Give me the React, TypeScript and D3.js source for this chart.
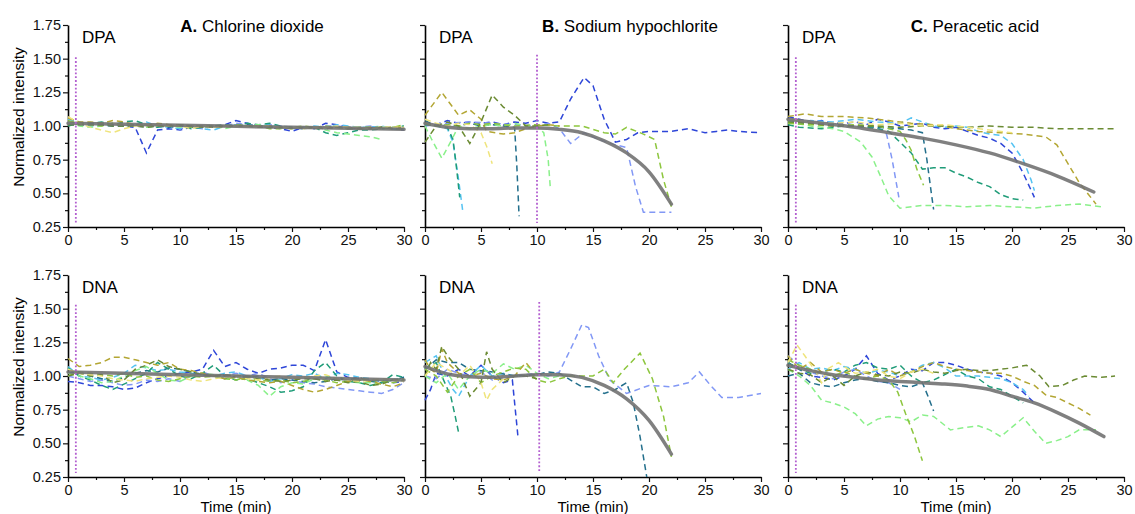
import React, { useEffect, useRef } from 'react';
import * as d3 from 'd3';

type Pt = [number, number];
type Series = number[] | Pt[];

// replicate colours, same order in every panel
const palette = ['#2e46d8', '#8298f5', '#55c3f2', '#236f8c', '#1f9c78', '#8af08a', '#8dc63e', '#b3a633', '#6b8b33', '#efe47c'];

const yTicks = [0.25, 0.5, 0.75, 1.0, 1.25, 1.5, 1.75];
const xTicks = [0, 5, 10, 15, 20, 25, 30];
const titles = [['A.', ' Chlorine dioxide'], ['B.', ' Sodium hypochlorite'], ['C.', ' Peracetic acid']];
const rowLabels = ['DPA', 'DNA'];
// dotted marker: time (min) and top value, per row / column
const markerTime = [[0.7, 10, 0.7], [0.7, 10.2, 0.7]];
const markerTop = [[1.51, 1.53, 1.51], [1.53, 1.55, 1.53]];

// ---- A. Chlorine dioxide, DPA (one value per minute)
const aDpa: Series[] = [
  [1.03, 1.02, 1.01, 1.02, 1.01, 1.0, 0.99, 0.8, 0.97, 0.98, 0.97, 0.99, 1.0, 0.99, 1.01, 1.04, 1.02, 1.0, 0.99, 0.98, 0.96, 0.99, 0.98, 1.02, 1.01, 0.99, 0.98, 0.99, 0.99, 0.98, 0.97],
  [1.02, 1.01, 1.0, 1.01, 1.0, 1.01, 1.0, 0.99, 1.0, 1.0, 0.98, 0.99, 0.98, 1.0, 1.0, 1.02, 1.01, 1.0, 1.01, 1.0, 0.99, 0.98, 0.99, 1.0, 1.0, 0.99, 0.99, 1.0, 0.98, 0.99, 0.98],
  [1.05, 1.03, 1.0, 1.01, 1.0, 1.02, 1.01, 1.03, 1.0, 0.99, 0.98, 1.0, 0.98, 0.97, 1.0, 1.01, 1.0, 1.0, 1.01, 0.99, 0.98, 0.99, 1.0, 0.99, 1.01, 1.0, 0.99, 0.99, 1.0, 0.98, 0.98],
  [1.01, 1.01, 1.02, 1.01, 1.0, 1.0, 1.01, 1.0, 1.0, 0.99, 1.0, 0.99, 1.0, 0.99, 1.0, 1.0, 1.01, 1.0, 1.0, 0.99, 0.99, 0.98, 0.99, 0.98, 0.99, 0.99, 0.98, 0.98, 0.99, 0.98, 0.98],
  [1.0, 1.02, 1.02, 1.03, 1.01, 1.03, 1.04, 1.01, 0.99, 1.0, 1.0, 0.98, 0.99, 1.0, 1.01, 1.0, 1.02, 1.01, 1.02, 1.0, 0.99, 0.98, 0.99, 0.95, 0.93, 0.95, 0.97, 0.97, 0.98, 0.99, 1.0],
  [1.03, 1.0, 0.99, 1.0, 1.02, 1.0, 1.01, 0.99, 1.0, 1.0, 0.99, 1.0, 0.99, 1.0, 0.98, 1.0, 1.0, 1.01, 1.0, 0.99, 0.98, 0.99, 0.99, 0.97, 0.95, 0.94, 0.93, 0.92, 0.9],
  [1.04, 1.02, 1.01, 1.0, 1.02, 1.01, 1.0, 1.01, 1.0, 1.0, 1.01, 0.99, 1.0, 1.0, 0.99, 1.01, 1.0, 1.0, 0.98, 0.98, 0.99, 1.0, 0.99, 1.0, 0.99, 0.98, 0.99, 0.99, 0.98, 0.99, 1.01],
  [1.06, 1.03, 1.03, 1.02, 1.04, 1.03, 1.01, 1.0, 1.02, 1.01, 1.01, 1.0, 1.0, 0.99, 1.0, 1.0, 1.0, 1.0, 1.0, 0.99, 0.98, 0.99, 0.98, 0.99, 0.99, 0.99, 0.98, 0.99, 0.99, 0.99, 0.99],
  [1.01, 1.01, 1.01, 1.01, 1.0, 1.0, 1.0, 0.99, 1.0, 1.0, 1.01, 1.0, 0.99, 1.0, 1.0, 1.0, 1.0, 0.99, 0.99, 0.99, 0.98, 0.99, 0.99, 0.98, 0.99, 0.98, 0.98, 0.98, 0.99, 0.98, 0.98],
  [1.07, 1.02, 0.99, 0.97, 0.95, 0.98, 1.0, 1.01, 1.01, 1.0, 1.0, 0.98, 1.0, 0.99, 1.0, 1.0, 1.0, 1.0, 1.0, 0.99, 0.99, 0.98, 0.99, 0.99, 1.0, 0.99, 0.99, 0.98, 0.99, 0.99, 0.99],
];
const aDpaFit: Pt[] = [[0, 1.02], [10, 1.005], [20, 0.99], [30, 0.975]];

// ---- A. Chlorine dioxide, DNA
const aDna: Series[] = [
  [0.96, 0.95, 0.93, 0.93, 0.92, 0.9, 0.91, 0.95, 0.98, 1.0, 1.02, 1.03, 1.05, 1.19, 1.07, 1.1, 1.05, 1.02, 1.05, 1.06, 1.08, 1.08, 1.04, 1.27, 1.03, 0.99, 0.98, 0.97, 0.96, 0.95, 0.96],
  [1.0, 0.98, 0.96, 0.97, 0.95, 0.93, 0.94, 0.97, 0.96, 0.98, 0.96, 1.0, 1.03, 1.0, 1.0, 1.02, 1.0, 1.02, 0.98, 0.95, 0.97, 0.95, 0.94, 0.92, 0.91, 0.9, 0.89, 0.88, 0.87, 0.9, 0.95],
  [1.07, 1.0, 0.99, 0.97, 0.99, 1.02, 1.08, 1.06, 1.04, 1.05, 1.03, 1.02, 1.01, 1.0, 1.02, 1.03, 1.0, 0.99, 0.96, 0.98, 1.01, 1.0, 1.02, 0.98, 1.02, 1.01, 0.99, 0.98, 0.96, 0.97, 0.99],
  [1.02, 1.03, 1.0, 0.98, 0.96, 0.99, 1.02, 1.04, 1.03, 1.06, 1.05, 1.03, 1.01, 1.0, 0.98, 1.0, 0.99, 1.0, 0.97, 0.98, 0.97, 0.96, 0.95, 0.96, 0.98, 0.97, 0.99, 0.96, 0.95, 0.97, 0.99],
  [1.06, 1.0, 0.97, 0.93, 0.9, 0.94, 0.98, 1.02, 1.1, 1.05, 1.0, 0.98, 1.02, 1.08, 1.0, 0.97, 0.98, 0.95, 0.92, 0.88, 0.89, 0.92, 1.04, 1.1, 1.0, 0.96, 0.95, 0.93, 0.95, 1.01, 0.99],
  [1.02, 1.0, 0.98, 0.95, 0.96, 1.0, 1.04, 1.07, 1.02, 0.97, 0.96, 1.0, 1.02, 1.01, 0.98, 0.99, 0.97, 0.93, 0.85, 0.92, 0.95, 0.94, 0.98, 1.0, 0.97, 0.96, 0.95, 0.95, 0.94, 0.97, 0.98],
  [1.0, 1.03, 1.02, 1.01, 1.0, 1.02, 0.99, 1.0, 0.97, 0.96, 0.98, 1.0, 0.99, 1.0, 0.98, 0.97, 0.99, 0.97, 0.96, 0.97, 0.95, 0.96, 0.98, 0.97, 0.95, 0.96, 0.98, 0.97, 0.96, 0.95, 0.97],
  [1.13, 1.07, 1.08, 1.1, 1.14, 1.14, 1.12, 1.1, 1.08, 1.1, 1.05, 1.04, 1.02, 1.0, 0.98, 0.99, 0.97, 0.96, 0.95, 0.96, 0.93, 0.9, 0.88, 0.9, 0.93, 0.96, 0.97, 0.96, 0.94, 0.92, 0.95],
  [1.0, 1.02, 1.0, 1.01, 0.95, 0.97, 1.05, 1.08, 1.12, 1.07, 1.05, 1.03, 1.01, 1.0, 1.01, 1.0, 1.0, 0.98, 0.97, 0.96, 0.97, 0.98, 0.98, 0.96, 0.97, 0.95, 0.96, 0.93, 0.94, 0.97, 0.98],
  [1.05, 1.02, 1.01, 1.0, 0.98, 0.97, 0.96, 0.98, 0.99, 1.0, 0.99, 0.97, 0.96, 0.98, 0.99, 1.0, 0.98, 0.97, 0.99, 1.0, 0.98, 0.99, 1.0, 1.01, 0.98, 0.97, 0.96, 0.97, 0.98, 0.97, 0.96],
];
const aDnaFit: Pt[] = [[0, 1.03], [10, 1.01], [20, 0.99], [30, 0.97]];

// ---- B. Sodium hypochlorite, DPA ([min, value])
const bDpa: Series[] = [
  [[0, 1.02], [1, 1.01], [2, 1.04], [3, 1.02], [4, 1.03], [5, 1.02], [6, 1.03], [7, 1.01], [8, 1.03], [9, 1.02], [10, 1.04], [11, 1.02], [12, 1.03], [13, 1.2], [14.2, 1.36], [15, 1.3], [16, 1.05], [17, 0.88], [18, 0.9], [19, 0.95], [20, 0.96], [22, 0.96], [23.5, 0.98], [25, 0.95], [26, 0.96], [27, 0.97], [28, 0.96], [30, 0.95]],
  [[0, 1.0], [2, 1.02], [4, 1.03], [6, 1.02], [8, 1.01], [10, 1.0], [11, 1.02], [12, 0.98], [13, 0.87], [14.2, 0.95], [15.5, 0.9], [17, 0.86], [18, 0.84], [18.8, 0.55], [19.5, 0.36], [22, 0.36]],
  [[0, 1.02], [1, 1.0], [2, 0.98], [2.5, 0.88], [3, 0.6], [3.4, 0.35]],
  [[0, 1.04], [1, 1.0], [2, 1.01], [3, 1.0], [4, 1.02], [5, 1.0], [6, 1.01], [7, 1.0], [8, 0.99], [8.2, 0.7], [8.4, 0.33]],
  [[0, 1.01], [1, 1.0], [2, 0.99], [2.5, 0.9], [2.8, 0.7], [3.1, 0.47]],
  [[0, 1.0], [0.6, 0.9], [1.5, 0.76], [2.4, 0.9], [3, 1.0], [4, 0.98], [5, 1.0], [6, 1.01], [7, 1.0], [8, 1.02], [9, 1.0], [10, 1.0], [10.6, 0.95], [11, 0.75], [11.2, 0.53]],
  [[0, 1.02], [1, 1.0], [2, 1.01], [3, 1.0], [4, 1.02], [5, 1.01], [6, 1.02], [8, 1.0], [10, 1.01], [12, 1.0], [14, 1.0], [16, 0.95], [17, 0.94], [18, 0.99], [19.5, 0.94], [20.5, 0.9], [21.3, 0.6], [22, 0.4]],
  [[0, 1.08], [1.5, 1.25], [3, 1.08], [4, 1.12], [5, 1.05], [5.5, 0.96], [7, 0.94], [8, 0.95], [9, 0.98], [10, 1.0], [11, 1.01], [12, 1.0]],
  [[0, 0.88], [1, 1.0], [2, 1.03], [3, 1.0], [4, 0.87], [5, 1.03], [6, 1.23], [7, 1.14], [8, 1.08], [9, 1.0], [10, 1.0], [11, 1.01]],
  [[0, 1.05], [1, 1.02], [2, 1.0], [3, 1.02], [4, 1.01], [5, 0.95], [5.5, 0.85], [6, 0.72]],
];
const bDpaFit: Pt[] = [[0, 1.02], [2, 0.99], [4, 0.98], [6, 0.98], [8, 0.985], [10, 0.985], [12, 0.975], [14, 0.95], [16, 0.89], [18, 0.8], [20, 0.66], [22, 0.42]];

// ---- B. Sodium hypochlorite, DNA
const bDna: Series[] = [
  [[0, 0.82], [0.5, 0.9], [1, 1.02], [2, 1.0], [3, 1.05], [4, 1.0], [5, 1.08], [6, 1.0], [7, 0.95], [7.8, 0.97], [8.3, 0.55]],
  [[0, 1.0], [1, 0.98], [2, 1.05], [3, 1.02], [4, 1.0], [5, 1.03], [6, 0.97], [8, 1.0], [10, 1.02], [11, 1.0], [12, 1.03], [13, 1.2], [14, 1.38], [14.6, 1.36], [15.5, 1.15], [16.5, 0.97], [18, 0.87], [20, 0.93], [22, 0.92], [23.5, 0.95], [24.5, 1.03], [25.5, 0.93], [26.5, 0.84], [28, 0.84], [30, 0.87]],
  [[0, 1.1], [1, 1.15], [1.5, 1.05], [2.5, 0.9], [3, 0.85], [4, 1.0], [5, 1.08], [6, 1.0], [7, 1.02], [8, 1.0]],
  [[0, 1.05], [1, 1.12], [2, 1.1], [3, 1.1], [4, 1.05], [6, 1.03], [8, 1.0], [10, 1.01], [11, 1.03], [12, 1.02], [13, 0.97], [14, 0.92], [15, 0.92], [16, 0.87], [17, 0.9], [18, 0.95], [18.6, 0.8], [19.2, 0.55], [19.8, 0.25]],
  [[0, 1.05], [1, 1.1], [1.5, 1.0], [2.3, 0.85], [2.7, 0.7], [3, 0.58]],
  [[0, 1.0], [1, 0.95], [2, 1.02], [3, 0.9], [4, 1.0], [5, 1.05], [6, 1.02], [7, 1.09], [8, 1.05], [9, 1.08], [10, 1.02], [11, 0.98], [12, 1.0], [13, 1.0]],
  [[0, 1.05], [1, 1.0], [2, 0.88], [3, 1.0], [4, 1.05], [5, 0.95], [6, 1.0], [8, 1.06], [9, 1.05], [10, 0.97], [11, 0.95], [12, 0.98], [13, 1.0], [14, 1.0], [15, 1.0], [16, 1.05], [16.8, 0.95], [17.8, 1.05], [19.2, 1.17], [20.3, 0.98], [21.3, 0.7], [22, 0.4]],
  [[0, 1.12], [0.5, 1.05], [1, 1.02], [1.5, 1.2], [2, 1.1], [3, 1.02], [4, 1.0], [5, 1.02], [6, 0.98], [7, 0.97], [8, 1.0], [9, 1.1], [9.5, 1.05]],
  [[0, 1.0], [0.5, 1.1], [1, 1.05], [1.5, 1.22], [2, 1.15], [3, 1.05], [4, 0.85], [5, 0.95], [5.5, 1.18], [6, 1.05], [7, 0.95], [8, 1.0], [9, 1.0], [10, 0.98]],
  [[0, 1.0], [1, 1.1], [2, 1.05], [3, 1.0], [4, 1.08], [5, 0.95], [5.5, 0.82], [6, 0.9], [7, 0.98]],
];
const bDnaFit: Pt[] = [[0, 1.07], [1, 1.04], [2, 1.015], [4, 0.995], [6, 0.99], [8, 1.0], [10, 1.01], [12, 1.01], [14, 0.99], [16, 0.93], [18, 0.83], [20, 0.67], [22, 0.42]];

// ---- C. Peracetic acid, DPA
const cDpa: Series[] = [
  [[0, 1.07], [1, 1.05], [2, 1.03], [3, 1.04], [4, 1.02], [5, 1.02], [6, 1.03], [7, 1.01], [8, 1.05], [9, 1.03], [10, 1.0], [11, 1.01], [12, 1.02], [13, 0.99], [14, 0.98], [15, 0.99], [16, 0.96], [17, 0.93], [18, 0.91], [19, 0.87], [20, 0.8], [21, 0.65], [22, 0.47]],
  [[0, 1.04], [2, 1.03], [4, 1.02], [6, 1.0], [8, 0.99], [8.8, 0.94], [9.3, 0.75], [9.9, 0.47]],
  [[0, 1.02], [2, 1.04], [4, 1.03], [6, 1.05], [8, 1.03], [10, 1.02], [11, 1.06], [12, 1.03], [13, 1.0], [14, 0.99], [15, 1.0], [16, 0.99], [17, 0.96], [18, 0.94], [19, 0.93], [20, 0.87], [21, 0.75], [21.7, 0.6], [22, 0.52]],
  [[0, 1.03], [2, 1.02], [4, 1.01], [6, 1.0], [8, 0.99], [10, 0.98], [11, 0.97], [12, 0.95], [12.4, 0.75], [12.8, 0.5], [13, 0.38]],
  [[0, 1.01], [1, 0.99], [3, 0.98], [5, 1.0], [7, 0.99], [8, 0.98], [9, 0.96], [10, 0.88], [11, 0.8], [12, 0.68], [13, 0.69], [14, 0.69], [15, 0.65], [16, 0.62], [17, 0.58], [18, 0.55], [19, 0.49], [20, 0.46], [21, 0.45]],
  [[0, 1.03], [2, 1.0], [4, 0.98], [5, 0.96], [6.5, 0.88], [7.5, 0.77], [8.3, 0.62], [9, 0.48], [10, 0.39], [12, 0.41], [14, 0.41], [16, 0.4], [18, 0.41], [20, 0.4], [22, 0.39], [24, 0.41], [26, 0.42], [28, 0.4]],
  [[0, 1.02], [2, 1.01], [4, 1.0], [6, 1.01], [8, 1.0], [9, 0.98], [10, 0.96], [10.5, 0.9], [11, 0.82], [11.5, 0.68], [12.1, 0.56]],
  [[0, 1.07], [1.5, 1.09], [3, 1.07], [5, 1.07], [7, 1.06], [9, 1.04], [11, 1.02], [13, 1.01], [15, 0.98], [17, 0.96], [19, 0.95], [21, 0.94], [23, 0.92], [24, 0.86], [25, 0.72], [26, 0.58], [27.5, 0.42]],
  [[0, 1.03], [2, 1.02], [4, 1.0], [6, 1.0], [8, 1.0], [10, 0.99], [12, 1.0], [14, 1.0], [16, 0.99], [18, 1.0], [20, 0.99], [22, 0.99], [24, 0.98], [26, 0.98], [28, 0.98], [29.3, 0.98]],
  [[0, 1.05], [2, 1.03], [4, 1.02], [6, 1.03], [8, 1.01], [10, 1.02], [12, 1.0], [14, 1.01], [16, 0.99], [18, 0.97], [20, 0.95]],
];
const cDpaFit: Pt[] = [[0, 1.05], [3, 1.02], [6, 0.99], [9, 0.95], [12, 0.91], [15, 0.86], [18, 0.8], [21, 0.72], [24, 0.63], [27.3, 0.51]];

// ---- C. Peracetic acid, DNA
const cDna: Series[] = [
  [[0, 1.1], [1, 1.05], [2, 1.0], [3, 0.99], [4, 0.97], [5, 1.0], [6, 1.05], [7, 1.15], [8, 1.02], [9, 0.97], [10, 1.0], [11, 1.05], [12, 1.04], [13, 1.1], [14, 1.1], [15, 1.08], [16, 1.05], [17, 1.03], [18, 1.02], [19, 1.0], [20, 0.95], [21, 0.88], [22, 0.8]],
  [[0, 1.15], [1, 1.08], [2, 1.03], [3, 1.0], [4, 0.98], [5, 1.03], [6, 1.05], [7, 1.0], [8, 0.96], [9, 0.95], [10, 0.9]],
  [[0, 1.05], [1, 1.1], [2, 1.05], [3, 1.06], [4, 1.04], [5, 1.07], [6, 1.05], [7, 1.02], [8, 1.04], [9, 1.03], [10, 1.0], [11, 1.03], [12, 1.08], [13, 1.1], [14, 1.06], [15, 1.0], [16, 1.0], [17, 1.0], [18, 0.99], [19, 0.98], [20, 0.95], [21, 0.9], [21.5, 0.85]],
  [[0, 1.0], [1, 1.02], [2, 0.95], [3, 0.93], [4, 0.92], [5, 0.95], [6, 0.97], [7, 0.98], [8, 0.96], [9, 0.95], [10, 0.93], [11, 0.92], [12, 0.95], [12.5, 0.85], [13, 0.74]],
  [[0, 1.1], [1, 1.05], [2, 1.02], [3, 1.03], [4, 1.05], [5, 1.03], [6, 1.08], [7, 1.1], [8, 1.06], [9, 1.05], [10, 1.08], [11, 1.0], [12, 0.95], [13, 0.97], [14, 1.01], [15, 1.05], [16, 1.0], [17, 0.98], [18, 0.92], [19, 0.9], [20, 0.85], [21, 0.8]],
  [[0, 1.05], [1, 1.0], [2, 0.93], [3, 0.82], [4, 0.8], [5, 0.77], [6, 0.72], [7, 0.63], [8, 0.68], [9, 0.7], [10, 0.69], [11, 0.66], [12, 0.71], [13, 0.7], [14.5, 0.6], [16, 0.62], [17, 0.63], [18, 0.6], [19, 0.55], [20, 0.62], [21, 0.69], [22, 0.59], [23, 0.5], [24, 0.52], [25, 0.55], [26, 0.6], [27.5, 0.6]],
  [[0, 1.12], [1, 1.08], [2, 1.05], [3, 1.02], [4, 1.0], [5, 1.03], [6, 1.0], [7, 0.98], [8, 1.0], [9, 0.97], [9.8, 0.88], [10.5, 0.72], [11.3, 0.55], [12, 0.37]],
  [[0, 1.15], [1, 1.05], [2, 1.1], [3, 1.03], [4, 1.05], [5, 1.02], [6, 1.05], [7, 1.02], [8, 1.0], [9, 1.05], [10, 1.0], [11, 1.03], [12, 1.07], [13, 1.1], [14, 1.07], [15, 1.05], [16, 1.04], [17, 1.03], [18, 1.02], [19, 1.02], [20, 1.0], [21, 0.96], [22, 0.93], [23, 0.86], [24, 0.84], [25, 0.8], [26, 0.76], [27, 0.71]],
  [[0, 1.05], [1, 1.02], [2, 1.01], [3, 0.95], [4, 1.0], [5, 0.93], [6, 1.0], [7, 1.03], [8, 1.01], [9, 1.0], [10, 1.03], [11, 1.02], [12, 1.05], [13, 1.03], [14, 1.02], [15, 1.04], [16, 1.05], [17, 1.04], [18, 1.04], [19, 1.05], [20, 1.06], [21.3, 1.08], [22.5, 1.0], [23.3, 0.92], [24.5, 0.93], [25.5, 0.97], [26.5, 1.0], [28, 0.99], [29.2, 1.0]],
  [[0, 1.1], [0.8, 1.23], [1.5, 1.15], [2.5, 1.03], [3, 0.95], [3.5, 1.05], [4.5, 1.1], [5, 1.07], [6, 1.02], [7, 1.03], [8, 1.05], [9, 1.0], [10, 0.98], [11, 1.03], [12, 1.05], [13, 1.02]],
];
const cDnaFit: Pt[] = [[0, 1.08], [2, 1.04], [4, 1.01], [6, 0.99], [8, 0.97], [10, 0.96], [12, 0.95], [14, 0.94], [16, 0.925], [18, 0.9], [20, 0.85], [22, 0.8], [24, 0.73], [26, 0.65], [28.2, 0.55]];

const panels = [
  [{ series: aDpa, fit: aDpaFit }, { series: bDpa, fit: bDpaFit }, { series: cDpa, fit: cDpaFit }],
  [{ series: aDna, fit: aDnaFit }, { series: bDna, fit: bDnaFit }, { series: cDna, fit: cDnaFit }],
];

const W = 1135;
const H = 514;
const colX = [68, 425, 788];
const rowY = [25, 275];
const plotW = 336;
const plotH = 202;
const titleX = [252, 630, 975];
const font = '"Liberation Sans", Arial, sans-serif';

const toPts = (s: Series): Pt[] =>
  typeof s[0] === 'number' ? (s as number[]).map((v, i) => [i, v] as Pt) : (s as Pt[]);

const App = () => {
  const ref = useRef<SVGSVGElement>(null);

  useEffect(() => {
    const svg = d3.select(ref.current);
    svg.selectAll('*').remove();

    const x = d3.scaleLinear().domain([0, 30]).range([0, plotW]);
    const y = d3.scaleLinear().domain([0.25, 1.75]).range([plotH, 0]);
    const line = d3.line<Pt>().x((d) => x(d[0])).y((d) => y(d[1]));
    const fitLine = d3.line<Pt>().x((d) => x(d[0])).y((d) => y(d[1])).curve(d3.curveMonotoneX);

    panels.forEach((row, r) => {
      row.forEach((p, c) => {
        const g = svg.append('g').attr('transform', `translate(${colX[c]},${rowY[r]})`);

        // minor ticks
        g.append('g')
          .attr('transform', `translate(0,${plotH})`)
          .call(d3.axisBottom(x).tickValues(d3.range(2.5, 30, 5)).tickSize(3).tickFormat(() => ''))
          .call((a) => a.select('.domain').remove());
        g.append('g')
          .call(d3.axisLeft(y).tickValues(d3.range(0.375, 1.75, 0.25)).tickSize(3).tickFormat(() => ''))
          .call((a) => a.select('.domain').remove());

        const xa = g.append('g')
          .attr('transform', `translate(0,${plotH})`)
          .call(d3.axisBottom(x).tickValues(xTicks).tickSize(5).tickPadding(3).tickSizeOuter(0).tickFormat(d3.format('d')));
        const ya = g.append('g')
          .call(d3.axisLeft(y).tickValues(yTicks).tickSize(5).tickPadding(2).tickSizeOuter(0)
            .tickFormat(c === 0 ? d3.format('.2f') : () => ''));
        [xa, ya].forEach((a) => {
          a.selectAll('text').attr('font-family', font).attr('font-size', 14.5).attr('fill', '#111');
          a.select('.domain').attr('stroke-width', 1.6);
        });
        g.selectAll('.tick line').attr('stroke', '#111').attr('stroke-width', 1.2);

        // replicate traces
        p.series.forEach((s, i) => {
          g.append('path')
            .attr('d', line(toPts(s)))
            .attr('fill', 'none')
            .attr('stroke', palette[i])
            .attr('stroke-width', 1.5)
            .attr('stroke-dasharray', '6 4');
        });

        // fitted trend
        g.append('path')
          .attr('d', fitLine(p.fit))
          .attr('fill', 'none')
          .attr('stroke', '#727272')
          .attr('stroke-opacity', 0.9)
          .attr('stroke-width', 3.5)
          .attr('stroke-linecap', 'round');

        // dotted time marker
        g.append('line')
          .attr('x1', x(markerTime[r][c]))
          .attr('x2', x(markerTime[r][c]))
          .attr('y1', y(markerTop[r][c]))
          .attr('y2', y(0.28))
          .attr('stroke', '#b35fd0')
          .attr('stroke-width', 1.8)
          .attr('stroke-dasharray', '1.8 2');

        g.append('text')
          .attr('x', 14)
          .attr('y', 18)
          .attr('font-family', font)
          .attr('font-size', 17)
          .text(rowLabels[r]);

        if (c === 0) {
          g.append('text')
            .attr('transform', `translate(${24 - colX[0]},${plotH / 2 - 9}) rotate(-90)`)
            .attr('text-anchor', 'middle')
            .attr('font-family', font)
            .attr('font-size', 15.5)
            .text('Normalized intensity');
        }
        if (r === 1) {
          g.append('text')
            .attr('x', plotW / 2)
            .attr('y', 237)
            .attr('text-anchor', 'middle')
            .attr('font-family', font)
            .attr('font-size', 15)
            .text('Time (min)');
        }
      });
    });

    titles.forEach((t, c) => {
      const tx = svg.append('text')
        .attr('x', titleX[c])
        .attr('y', 32)
        .attr('text-anchor', 'middle')
        .attr('font-family', font)
        .attr('font-size', 17);
      tx.append('tspan').attr('font-weight', 'bold').text(t[0]);
      tx.append('tspan').text(t[1]);
    });
  }, []);

  return (
    <svg
      ref={ref}
      width={W}
      height={H}
      style={{ position: 'absolute', left: 0, top: 0, background: '#fff' }}
    />
  );
};

export default App;
